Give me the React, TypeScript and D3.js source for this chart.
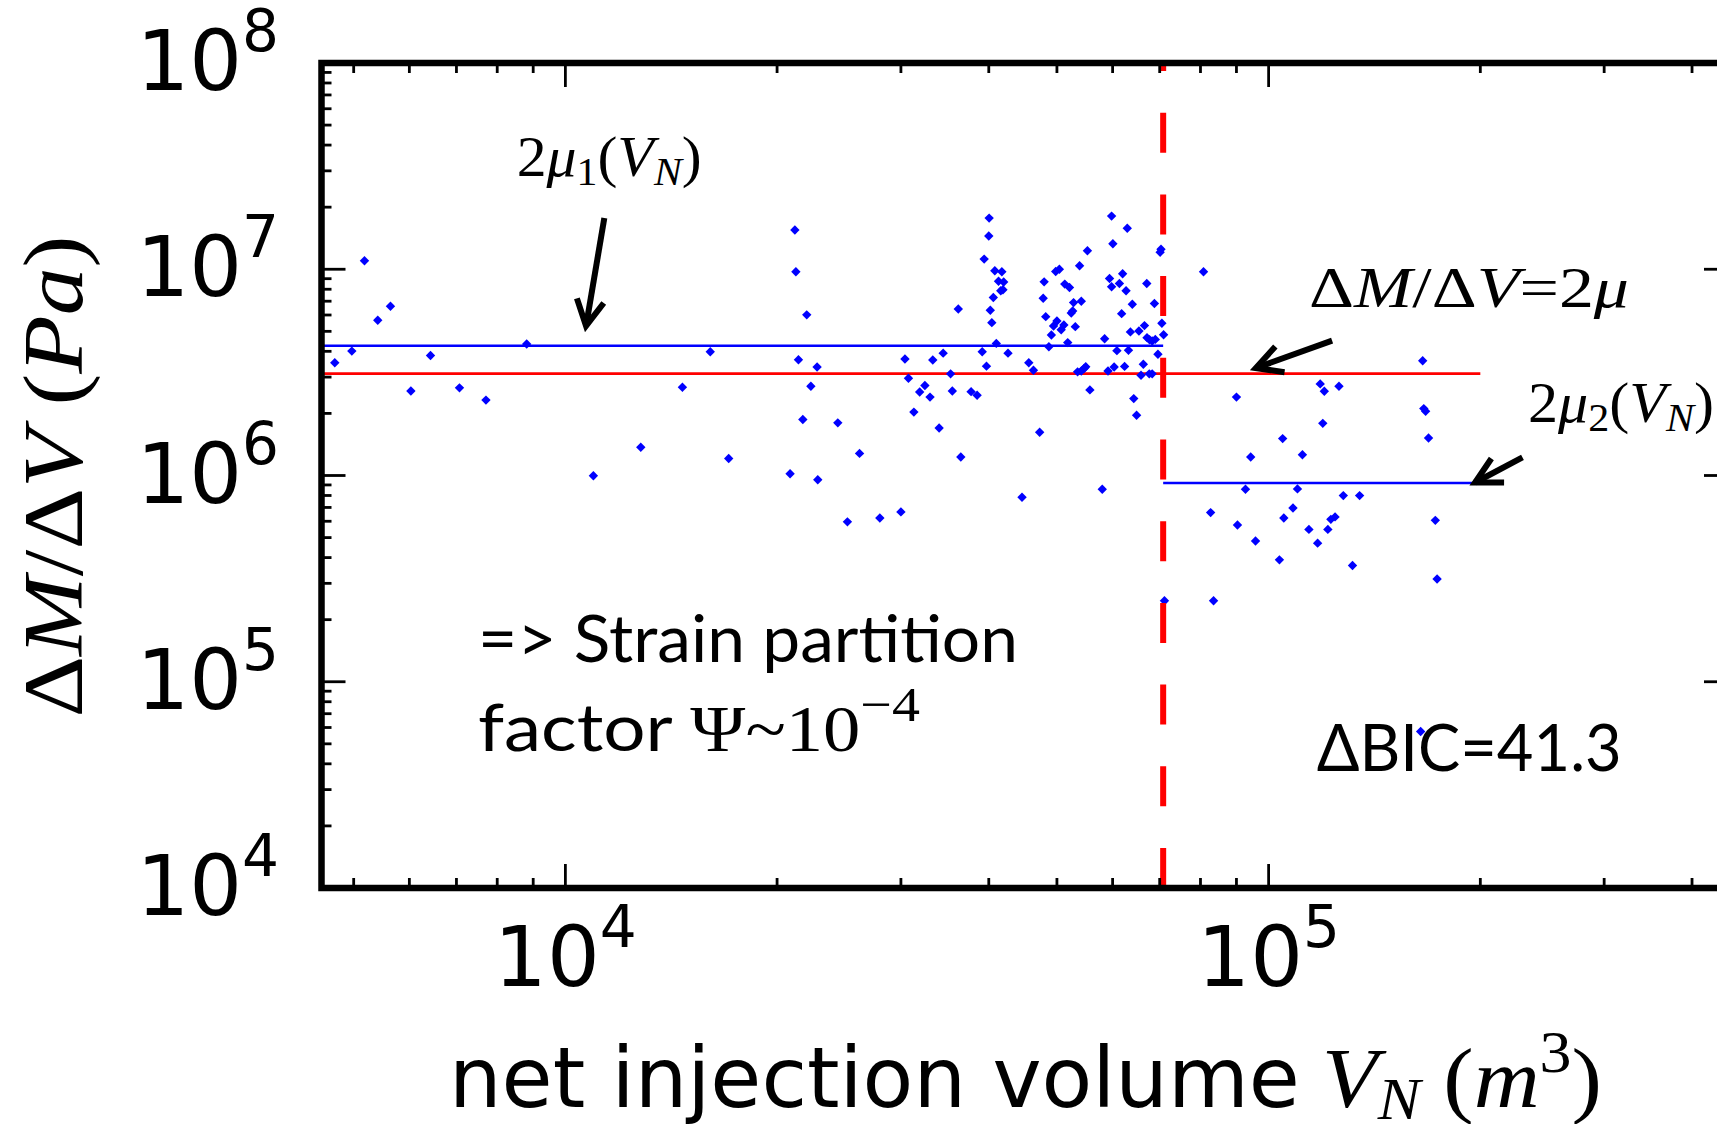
import React from 'react';
import * as d3 from 'd3';

// ---------- data ----------
// net injection volume V_N (m^3)
const netVolume: number[] = [
  4700, 4970, 5180, 5410, 5640, 6030, 6430, 7070, 7710, 8810,
  10960, 12800, 14670, 16070, 17070, 20870, 21200, 21270, 21450, 21760,
  22040, 22340, 22800, 22850, 24400, 25180, 26200, 28000, 30000, 30400,
  30750, 31300, 31900, 32450, 33000, 33300, 34000, 34450, 35300, 35500,
  36200, 36500, 37750, 38500, 40050, 40000, 39400, 40800, 41750, 41300,
  42000, 41600, 41900, 40600, 40200, 40400, 41000, 39150, 42600, 39700,
  45600, 46300, 47250, 44600, 47950, 47800, 48200, 48700, 49100, 49450,
  50000, 50700, 51150, 49800, 50400, 51300, 52100, 52800, 52400, 52650,
  51800, 53100, 53850, 54150, 55250, 53500, 54150, 54650, 54950, 55700,
  58000, 59800, 60050, 59400, 59800, 58450, 59100, 60300, 60850, 62000,
  61350, 61800, 62700, 62950, 64000, 63600, 63200, 62400, 64300, 64900,
  65400, 66600, 67100, 67150, 67700, 68300, 69000, 68800, 66350, 65850,
  67650, 68300, 69600, 70500, 70900, 70100, 70300, 71100, 80800, 83500,
  90000, 94300, 92700, 82700, 90300, 95800, 103600, 104700, 105100, 108300,
  109900, 111700, 114100, 117400, 118400, 120000, 119400, 121400, 122600, 124300,
  125900, 127700, 134700, 131600, 165600, 166200, 167200, 168800, 172600, 173600,
  164500,
];

// Delta M / Delta V (Pa)
const momentPerVolume: number[] = [
  3.52e6, 4.01e6, 1.10e7, 5.66e6, 6.62e6, 2.57e6, 3.82e6, 2.66e6, 2.32e6, 4.34e6,
  9.97e5, 1.37e6, 2.68e6, 3.98e6, 1.21e6, 1.02e6, 1.55e7, 9.72e6, 3.64e6, 1.87e6,
  6.01e6, 2.71e6, 3.36e6, 9.53e5, 1.80e6, 5.96e5, 1.28e6, 6.22e5, 6.66e5, 3.67e6,
  2.96e6, 2.03e6, 2.54e6, 2.73e6, 2.40e6, 3.63e6, 1.70e6, 3.92e6, 3.11e6, 2.57e6,
  6.42e6, 1.23e6, 2.55e6, 2.45e6, 1.77e7, 1.45e7, 1.12e7, 9.84e6, 9.72e6, 8.75e6,
  8.67e6, 7.86e6, 7.95e6, 7.29e6, 6.33e6, 5.51e6, 4.37e6, 3.98e6, 3.92e6, 3.39e6,
  3.52e6, 3.24e6, 1.62e6, 7.84e5, 8.69e6, 7.24e6, 5.89e6, 4.21e6, 4.80e6, 5.31e6,
  5.61e6, 5.09e6, 5.37e6, 9.76e6, 1.00e7, 8.47e6, 8.15e6, 6.89e6, 6.14e6, 6.28e6,
  4.41e6, 5.27e6, 1.04e7, 7.00e6, 1.23e7, 3.18e6, 3.21e6, 3.30e6, 3.37e6, 2.60e6,
  8.58e5, 1.81e7, 1.33e7, 9.02e6, 8.22e6, 4.60e6, 3.21e6, 3.36e6, 4.03e6, 9.51e6,
  8.53e6, 6.09e6, 7.86e6, 1.58e7, 6.77e6, 4.97e6, 4.05e6, 3.38e6, 2.36e6, 1.96e6,
  5.02e6, 5.33e6, 8.53e6, 4.66e6, 4.55e6, 4.49e6, 4.57e6, 6.82e6, 3.46e6, 3.06e6,
  3.11e6, 3.11e6, 3.87e6, 5.47e6, 4.81e6, 1.21e7, 1.25e7, 2.47e5, 9.72e6, 2.47e5,
  2.40e6, 1.23e6, 8.58e5, 6.61e5, 5.75e5, 4.81e5, 3.90e5, 1.51e6, 6.22e5, 6.96e5,
  8.61e5, 1.26e6, 5.48e5, 4.70e5, 2.78e6, 2.56e6, 1.79e6, 5.48e5, 6.13e5, 6.30e5,
  2.71e6, 7.99e5, 7.99e5, 3.66e5, 3.60e6, 2.11e6, 2.05e6, 1.52e6, 6.06e5, 3.15e5,
  5.74e4,
];

const xLimits: [number, number] = [4.5e3, 4.5e5];
const yLimits: [number, number] = [1e4, 1e8];
const xTickExponents: number[] = [4, 5];
const yTickExponents: number[] = [4, 5, 6, 7, 8];

// fitted model
const changePoint = 7.08e4; // m^3
const fitEnd = 2.0e5; // m^3
const twoMuSingle = 3.12e6; // Pa (single modulus fit)
const twoMu1 = 4.26e6; // Pa (before change point)
const twoMu2 = 9.2e5; // Pa (after change point)

// annotation arrows in data coordinates: [tailV, tailRatio, tipV, tipRatio]
const arrowMu1: number[] = [1.136e4, 1.77e7, 1.07e4, 5.31e6];
const arrowMu: number[] = [1.231e5, 4.51e6, 9.59e4, 3.32e6];
const arrowMu2: number[] = [2.296e5, 1.223e6, 1.966e5, 9.25e5];

// ---------- helpers ----------
type Seg = { t: string; it?: boolean; sub?: boolean; sup?: boolean; shift?: number; font?: string; dx?: number; scale?: number };

function Rich(props: {
  x: number; y: number; size: number; segs: Seg[]; family: string;
  anchor?: string; transform?: string; textLength?: number;
}) {
  const { x, y, size, segs, family, anchor, transform, textLength } = props;
  let cur = 0;
  return (
    <text
      x={x}
      y={y}
      fontSize={size}
      fontFamily={family}
      textAnchor={anchor || 'start'}
      transform={transform}
      fill="#000"
      {...(textLength ? { textLength, lengthAdjust: 'spacingAndGlyphs' } : {})}
    >
      {segs.map((s, i) => {
        let target = 0;
        if (s.sub) target = s.shift !== undefined ? s.shift : size * 0.16;
        if (s.sup) target = s.shift !== undefined ? -s.shift : -size * 0.45;
        const dy = target - cur;
        cur = target;
        const fs = s.sub || s.sup ? size * (s.scale || 0.7) : size;
        return (
          <tspan
            key={i}
            dy={dy}
            dx={s.dx || 0}
            fontStyle={s.it ? 'italic' : 'normal'}
            fontSize={fs}
            fontFamily={s.font || family}
          >
            {s.t}
          </tspan>
        );
      })}
    </text>
  );
}

function Arrow(props: { x1: number; y1: number; x2: number; y2: number }) {
  const { x1, y1, x2, y2 } = props;
  const ang = Math.atan2(y1 - y2, x1 - x2);
  const len = 29;
  const spread = (28 * Math.PI) / 180;
  const w1 = [x2 + len * Math.cos(ang + spread), y2 + len * Math.sin(ang + spread)];
  const w2 = [x2 + len * Math.cos(ang - spread), y2 + len * Math.sin(ang - spread)];
  return (
    <g stroke="#000" strokeWidth={6} fill="none">
      <line x1={x1} y1={y1} x2={x2} y2={y2} strokeLinecap="butt" />
      <polyline points={`${w1[0]},${w1[1]} ${x2},${y2} ${w2[0]},${w2[1]}`} strokeLinejoin="miter" strokeLinecap="butt" />
    </g>
  );
}

const MATH = 'Liberation Serif, Times New Roman, serif';
const SANS = 'DejaVu Sans, sans-serif';
const CALIBRI = 'Lato, Carlito, Calibri, sans-serif';

export default function App() {
  const W = 1717;
  const H = 1124;
  const L = 321.5;
  const R = 1728;
  const T = 63;
  const B = 888;

  const x = d3.scaleLog().domain(xLimits).range([L, R]);
  const y = d3.scaleLog().domain(yLimits).range([B, T]);

  const isPow10 = (v: number) => Math.abs(Math.log10(v) - Math.round(Math.log10(v))) < 1e-9;
  const xMinor = x.ticks().filter((v) => !isPow10(v));
  const yMinor = y.ticks().filter((v) => !isPow10(v));
  const xMajor = xTickExponents.map((e) => Math.pow(10, e));
  const yMajor = yTickExponents.map((e) => Math.pow(10, e));

  const points = netVolume.map((v, i) => [x(v), y(momentPerVolume[i])]);
  const r = 4.7;
  const diamond = (cx: number, cy: number) => `M${cx},${cy - r}L${cx + r},${cy}L${cx},${cy + r}L${cx - r},${cy}Z`;

  const majLen = 24;
  const minLen = 10;

  const arrow = (a: number[]) => ({ x1: x(a[0]), y1: y(a[1]), x2: x(a[2]), y2: y(a[3]) });

  return (
    <div style={{ position: 'absolute', left: 0, top: 0, width: W, height: H, overflow: 'hidden', background: '#fff' }}>
      <svg width={W} height={H} viewBox={`0 0 ${W} ${H}`} style={{ display: 'block' }}>
        <rect x={0} y={0} width={W} height={H} fill="#fff" />

        {/* fitted lines */}
        <line x1={L} x2={x(changePoint)} y1={y(twoMu1)} y2={y(twoMu1)} stroke="#0000ff" strokeWidth={2.6} />
        <line x1={L} x2={x(fitEnd)} y1={y(twoMuSingle)} y2={y(twoMuSingle)} stroke="#ff0000" strokeWidth={2.6} />
        <line x1={x(changePoint)} x2={x(fitEnd)} y1={y(twoMu2)} y2={y(twoMu2)} stroke="#0000ff" strokeWidth={2.6} />

        {/* data points */}
        <g fill="#0000ff">
          {points.map((p, i) => (
            <path key={i} d={diamond(p[0], p[1])} />
          ))}
        </g>

        {/* change point */}
        <path
          d={`M${x(changePoint)},${B}L${x(changePoint)},${T}`}
          stroke="#ff0000"
          strokeWidth={6}
          strokeDasharray="40 41.7"
          fill="none"
        />

        {/* ticks */}
        <g stroke="#000" strokeWidth={2.8}>
          {xMajor.map((v, i) => (
            <g key={'xM' + i}>
              <line x1={x(v)} x2={x(v)} y1={B} y2={B - majLen} />
              <line x1={x(v)} x2={x(v)} y1={T} y2={T + majLen} />
            </g>
          ))}
          {xMinor.map((v, i) => (
            <g key={'xm' + i}>
              <line x1={x(v)} x2={x(v)} y1={B} y2={B - minLen} />
              <line x1={x(v)} x2={x(v)} y1={T} y2={T + minLen} />
            </g>
          ))}
          {yMajor.map((v, i) => (
            <g key={'yM' + i}>
              <line x1={L} x2={L + majLen} y1={y(v)} y2={y(v)} />
              <line x1={R} x2={R - majLen} y1={y(v)} y2={y(v)} />
            </g>
          ))}
          {yMinor.map((v, i) => (
            <g key={'ym' + i}>
              <line x1={L} x2={L + minLen} y1={y(v)} y2={y(v)} />
              <line x1={R} x2={R - minLen} y1={y(v)} y2={y(v)} />
            </g>
          ))}
        </g>

        {/* spines */}
        <rect x={L} y={T} width={R - L} height={B - T} fill="none" stroke="#000" strokeWidth={6.5} />

        {/* tick labels */}
        {xTickExponents.map((e, i) => (
          <Rich
            key={'xl' + i}
            x={x(Math.pow(10, e))}
            y={986}
            size={83}
            family={SANS}
            anchor="middle"
            segs={[{ t: '10' }, { t: String(e), sup: true, shift: 39 }]}
          />
        ))}
        {yTickExponents.map((e, i) => (
          <Rich
            key={'yl' + i}
            x={279}
            y={y(Math.pow(10, e)) + 27}
            size={83}
            family={SANS}
            anchor="end"
            segs={[{ t: '10' }, { t: String(e), sup: true, shift: 39 }]}
          />
        ))}

        {/* axis labels */}
        <text x={449} y={1107} fontFamily={SANS} fontSize={83} fill="#000">net injection volume</text>
        <Rich
          x={1322}
          y={1107}
          size={84}
          family={MATH}
          textLength={280}
          segs={[
            { t: 'V', it: true },
            { t: 'N', it: true, sub: true, shift: 12 },
            { t: ' (' },
            { t: 'm', it: true },
            { t: '3', sup: true, shift: 35 },
            { t: ')' },
          ]}
        />
        <Rich
          x={0}
          y={0}
          size={84}
          family={MATH}
          transform={`translate(82,717.5) rotate(-90)`}
          textLength={482}
          segs={[
            { t: 'Δ' },
            { t: 'M', it: true },
            { t: '/' },
            { t: 'Δ' },
            { t: 'V', it: true },
            { t: ' (' },
            { t: 'Pa', it: true },
            { t: ')' },
          ]}
        />

        {/* annotations */}
        <Rich
          x={516.7}
          y={176}
          size={56}
          family={MATH}
          textLength={185}
          segs={[
            { t: '2' },
            { t: 'μ', it: true },
            { t: '1', sub: true, shift: 9 },
            { t: '(' },
            { t: 'V', it: true },
            { t: 'N', it: true, sub: true, shift: 9 },
            { t: ')' },
          ]}
        />
        <Arrow {...arrow(arrowMu1)} />

        <Rich
          x={1309}
          y={306.7}
          size={56}
          family={MATH}
          textLength={320}
          segs={[
            { t: 'Δ' },
            { t: 'M', it: true },
            { t: '/' },
            { t: 'Δ' },
            { t: 'V', it: true },
            { t: '=' },
            { t: '2' },
            { t: 'μ', it: true },
          ]}
        />
        <Arrow {...arrow(arrowMu)} />

        <Rich
          x={1528}
          y={421.7}
          size={56}
          family={MATH}
          textLength={186}
          segs={[
            { t: '2' },
            { t: 'μ', it: true },
            { t: '2', sub: true, shift: 9 },
            { t: '(' },
            { t: 'V', it: true },
            { t: 'N', it: true, sub: true, shift: 9 },
            { t: ')' },
          ]}
        />
        <Arrow {...arrow(arrowMu2)} />

        <text
          x={478}
          y={661.7}
          fontFamily={CALIBRI}
          fontSize={66}
          fill="#000"
          textLength={540}
          lengthAdjust="spacingAndGlyphs"
        >
          {'=> Strain partition'}
        </text>
        <Rich
          x={478}
          y={751}
          size={66}
          family={CALIBRI}
          textLength={442}
          segs={[
            { t: 'factor ' },
            { t: 'Ψ~10', font: MATH },
            { t: '−4', sup: true, shift: 30, font: MATH, scale: 0.75 },
          ]}
        />
        <text
          x={1316.7}
          y={770.7}
          fontFamily={CALIBRI}
          fontSize={66}
          fill="#000"
          textLength={305}
          lengthAdjust="spacingAndGlyphs"
        >
          ΔBIC=41.3
        </text>
      </svg>
    </div>
  );
}
